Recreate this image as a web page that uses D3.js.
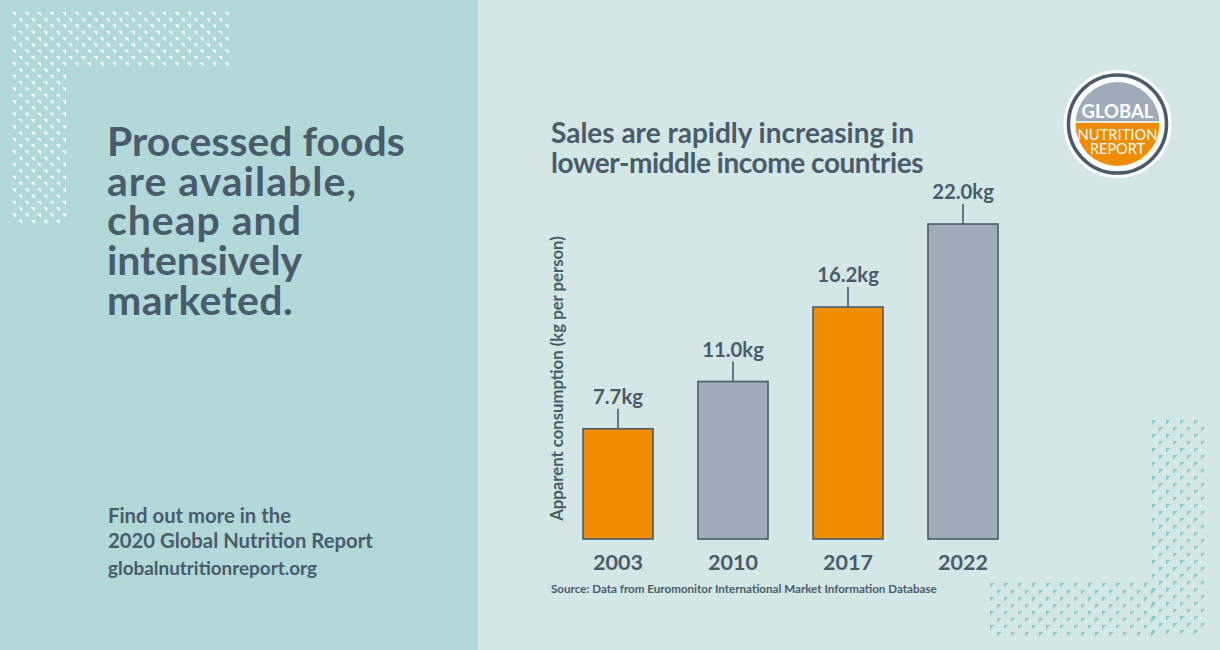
<!DOCTYPE html>
<html><head><meta charset="utf-8">
<script src="https://cdn.jsdelivr.net/npm/d3@7"></script>
<style>html,body{margin:0;padding:0;overflow:hidden;background:#d2e7e6}</style>
</head><body><svg id="c" width="1220" height="650"></svg>
<script>
// ---- data ----
const years = ["2003", "2010", "2017", "2022"];
const values = [7.7, 11.0, 16.2, 22.0];
const valueLabels = ["7.7kg", "11.0kg", "16.2kg", "22.0kg"];
const headlineLines = ["Processed foods", "are available,", "cheap and", "intensively", "marketed."];
const titleLines = ["Sales are rapidly increasing in", "lower-middle income countries"];
const footerLines = ["Find out more in the", "2020 Global Nutrition Report"];
const footerUrl = "globalnutritionreport.org";
const yAxisLabel = "Apparent consumption (kg per person)";
const sourceText = "Source: Data from Euromonitor International Market Information Database";
const logoLines = ["GLOBAL", "NUTRITION", "REPORT"];

// ---- style ----
const INK = "#4a5b6c", ORANGE = "#f08c00", GREY = "#9eabb8";
const FONT = "Lato, 'Open Sans', sans-serif";
const svg = d3.select("#c");

function fit(sel, target, base) {
  sel.attr("font-size", base);
  const w = sel.node().getComputedTextLength();
  const fs = base * target / w;
  sel.attr("font-size", fs);
  return fs;
}
function fitSpacing(sel, target) {
  const w = sel.node().getComputedTextLength();
  const n = sel.text().length;
  sel.attr("letter-spacing", ((target - w) / n).toFixed(3));
}

// backgrounds
svg.append("rect").attr("x", 0).attr("y", 0).attr("width", 1220).attr("height", 650).attr("fill", "#d2e7e6");
svg.append("rect").attr("x", 0).attr("y", 0).attr("width", 478).attr("height", 650).attr("fill", "#b2d8d8");

// decorative triangle patterns
function pattern(g, regions, dx, dy, size, color, orient) {
  regions.forEach(r => {
    let row = 0;
    for (let y = r.y0; y <= r.y1 - size; y += dy, row++) {
      const off = (row % 2) ? dx / 2 : 0;
      for (let x = r.x0 + off; x <= r.x1 - size; x += dx) {
        const inPrev = regions.some(q => q !== r && q.drawn && x >= q.x0 && x <= q.x1 && y >= q.y0 && y <= q.y1);
        if (inPrev) continue;
        const pts = orient === "tr"
          ? [[x, y], [x + size, y], [x + size, y + size]]
          : [[x, y], [x + size, y], [x, y + size]];
        g.append("path").attr("d", "M" + pts.map(p => p.join(",")).join("L") + "Z").attr("fill", color);
      }
    }
    r.drawn = true;
  });
}
const pl = svg.append("g");
pattern(pl, [{x0: 12, x1: 231, y0: 12, y1: 68}, {x0: 12, x1: 68, y0: 12, y1: 230}], 12.5, 6.3, 4, "#ffffff", "tr");
const pr = svg.append("g");
pattern(pr, [{x0: 1152, x1: 1212, y0: 420, y1: 640}, {x0: 990, x1: 1212, y0: 583, y1: 640}], 14, 7, 4.4, "#88cbc7", "tl");

// headline (one text block, one tspan per line)
const headTargets = [298, 250, 195, 195, 186];
const hs = svg.append("text").attr("fill", INK).attr("font-family", FONT).attr("font-weight", 700);
let hfs = 40;
headlineLines.forEach((t, i) => {
  const tx = hs.append("tspan").attr("x", 107).attr("y", 156 + i * 39.7).text(t);
  if (i === 0) { hfs = fit(tx, headTargets[0], 40); }
  else { tx.attr("font-size", hfs); fitSpacing(tx, headTargets[i]); }
});

// footer
const fs = svg.append("g").attr("fill", INK).attr("font-family", FONT).attr("font-weight", 700);
const f1 = fs.append("text").attr("x", 108).attr("y", 548).text(footerLines[1]);
const ffs = fit(f1, 265, 18);
fs.append("text").attr("x", 108).attr("y", 523).attr("font-size", ffs).text(footerLines[0]);
const fu = fs.append("text").attr("x", 108).attr("y", 575).text(footerUrl);
fit(fu, 209, ffs);

// title
const ts = svg.append("g").attr("fill", INK).attr("font-family", FONT).attr("font-weight", 700);
const t1 = ts.append("text").attr("x", 551).attr("y", 143).text(titleLines[0]);
const tfs = fit(t1, 363, 25);
const t2 = ts.append("text").attr("x", 551).attr("y", 173).attr("font-size", tfs).text(titleLines[1]);
fitSpacing(t2, 372);

// chart scales
const x = d3.scaleBand().domain(years).range([583, 998]).paddingInner(45 / 115).paddingOuter(0);
const y = d3.scaleLinear().domain([0, 22]).range([539, 224]);

const chart = svg.append("g");
chart.selectAll("rect.bar").data(values).join("rect").attr("class", "bar")
  .attr("x", (d, i) => x(years[i])).attr("width", x.bandwidth())
  .attr("y", d => y(d)).attr("height", d => y(0) - y(d))
  .attr("fill", (d, i) => i % 2 === 0 ? ORANGE : GREY)
  .attr("stroke", INK).attr("stroke-width", 1.6);

chart.selectAll("line.lead").data(values).join("line").attr("class", "lead")
  .attr("x1", (d, i) => x(years[i]) + x.bandwidth() / 2).attr("x2", (d, i) => x(years[i]) + x.bandwidth() / 2)
  .attr("y1", d => y(d)).attr("y2", d => y(d) - 20)
  .attr("stroke", INK).attr("stroke-width", 1.6);

const vl = chart.selectAll("text.val").data(values).join("text").attr("class", "val")
  .attr("x", (d, i) => x(years[i]) + x.bandwidth() / 2).attr("y", d => y(d) - 25)
  .attr("text-anchor", "middle").attr("fill", INK).attr("font-family", FONT).attr("font-weight", 700)
  .text((d, i) => valueLabels[i]);
const vfs = fit(d3.select(vl.nodes()[0]), 50, 20);
vl.attr("font-size", vfs);

// x axis
const xa = svg.append("g").attr("transform", "translate(0,539)")
  .call(d3.axisBottom(x).tickSize(0).tickPadding(0));
xa.select(".domain").remove();
xa.selectAll("text").attr("fill", INK).attr("font-family", FONT).attr("font-weight", 700)
  .attr("dy", 0).attr("y", 31);
const yfs = fit(d3.select(xa.selectAll("text").nodes()[0]), 50, 21);
xa.selectAll("text").attr("font-size", yfs);

// y label
const yl = svg.append("text").attr("transform", "translate(563,378.5) rotate(-90)")
  .attr("text-anchor", "middle").attr("fill", INK).attr("font-family", FONT).attr("font-weight", 700)
  .text(yAxisLabel);
fit(yl, 285, 14);

// source
const src = svg.append("text").attr("x", 551).attr("y", 593).attr("fill", INK)
  .attr("font-family", FONT).attr("font-weight", 700).text(sourceText);
fit(src, 386, 10.5);

// logo
const cx = 1117.5, cy = 124;
const lg = svg.append("g");
lg.append("circle").attr("cx", cx).attr("cy", cy).attr("r", 54).attr("fill", "#ffffff");
lg.append("circle").attr("cx", cx).attr("cy", cy).attr("r", 49).attr("fill", "none").attr("stroke", INK).attr("stroke-width", 3.6);
const clip = svg.append("defs").append("clipPath").attr("id", "lc");
clip.append("circle").attr("cx", cx).attr("cy", cy).attr("r", 42);
const inner = lg.append("g").attr("clip-path", "url(#lc)");
inner.append("rect").attr("x", cx - 43).attr("y", cy - 43).attr("width", 86).attr("height", 43 - 2.7).attr("fill", GREY);
inner.append("rect").attr("x", cx - 43).attr("y", cy - 1.2).attr("width", 86).attr("height", 44).attr("fill", ORANGE);
const lt = lg.append("text").attr("fill", "#ffffff").attr("font-family", FONT).attr("text-anchor", "middle");
fit(lt.append("tspan").attr("x", cx).attr("y", 118).attr("font-weight", 700).text(logoLines[0]), 72, 18);
fit(lt.append("tspan").attr("x", cx).attr("y", 139.5).attr("font-weight", 400).text(logoLines[1]), 80, 14);
fit(lt.append("tspan").attr("x", cx).attr("y", 153.5).attr("font-weight", 400).text(logoLines[2]), 55, 14);
</script>
</body></html>
